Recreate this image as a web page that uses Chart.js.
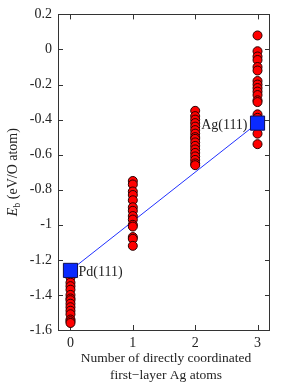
<!DOCTYPE html>
<html><head><meta charset="utf-8">
<script src="https://cdn.jsdelivr.net/npm/chart.js@4"></script>
<style>html,body{margin:0;padding:0;background:#fff}#wrap{width:281px;height:382px}</style>
</head><body><div id="wrap"><canvas id="c" width="281" height="382"></canvas></div>
<script>
const categories = [0, 1, 2, 3];
const col0 = [-1.30, -1.33, -1.35, -1.37, -1.40, -1.42, -1.43, -1.45, -1.47, -1.49, -1.51, -1.54, -1.55, -1.56];
const col1 = [-0.75, -0.77, -0.81, -0.83, -0.86, -0.90, -0.92, -0.95, -0.97, -1.00, -1.01, -1.07, -1.08, -1.12];
const col2 = [-0.35, -0.38, -0.40, -0.42, -0.44, -0.46, -0.48, -0.50, -0.51, -0.53, -0.55, -0.57, -0.59, -0.61, -0.63, -0.65, -0.66];
const col3 = [0.08, -0.01, -0.04, -0.06, -0.10, -0.12, -0.18, -0.20, -0.22, -0.24, -0.26, -0.29, -0.30, -0.37, -0.39, -0.48, -0.54];
const surfaceNames = ['Pd(111)', 'Ag(111)'];
const surfaceX = [0, 3];
const surfaceY = [-1.26, -0.42];
const xTicks = [0, 1, 2, 3];
const yTicks = [0.2, 0, -0.2, -0.4, -0.6, -0.8, -1, -1.2, -1.4, -1.6];

const cols = [col0, col1, col2, col3];
const scatterPts = [];
cols.forEach((arr, i) => arr.forEach(v => scatterPts.push({x: categories[i], y: v})));
const surfPts = surfaceX.map((x, i) => ({x: x, y: surfaceY[i]}));

const SERIF = '"Liberation Serif", "DejaVu Serif", serif';

const framePlugin = {
  id: 'frame',
  beforeDatasetsDraw(chart) {
    const {ctx, chartArea: a, scales} = chart;
    ctx.save();
    ctx.strokeStyle = '#333';
    ctx.lineWidth = 1;
    ctx.strokeRect(Math.round(a.left) + 0.5, Math.round(a.top) + 0.5, Math.round(a.right - a.left) - 1, Math.round(a.bottom - a.top));
    const L = 5;
    ctx.beginPath();
    xTicks.forEach(v => {
      const px = Math.round(scales.x.getPixelForValue(v)) + 0.5;
      ctx.moveTo(px, a.bottom); ctx.lineTo(px, a.bottom - L);
      ctx.moveTo(px, a.top); ctx.lineTo(px, a.top + L);
    });
    yTicks.forEach(v => {
      const py = Math.round(scales.y.getPixelForValue(v)) + 0.5;
      ctx.moveTo(a.left, py); ctx.lineTo(a.left + L, py);
      ctx.moveTo(a.right, py); ctx.lineTo(a.right - L, py);
    });
    ctx.stroke();
    ctx.restore();
  },
  afterDraw(chart) {
    const {ctx, chartArea: a, scales} = chart;
    ctx.save();
    ctx.fillStyle = '#222';
    ctx.font = '14px ' + SERIF;
    ctx.textBaseline = 'middle';
    ctx.textAlign = 'left';
    ctx.fillText(surfaceNames[0], scales.x.getPixelForValue(surfaceX[0]) + 8, scales.y.getPixelForValue(surfaceY[0]) + 2);
    ctx.textAlign = 'right';
    ctx.fillText(surfaceNames[1], scales.x.getPixelForValue(surfaceX[1]) - 10, scales.y.getPixelForValue(surfaceY[1]) + 2);
    ctx.textAlign = 'center';
    ctx.textBaseline = 'middle';
    ctx.font = '13.5px ' + SERIF;
    const cx = (a.left + a.right) / 2 + 2;
    ctx.fillText('Number of directly coordinated', cx, 358);
    ctx.fillText('first\u2212layer Ag atoms', cx, 375);
    ctx.translate(13, (a.top + a.bottom) / 2);
    ctx.rotate(-Math.PI / 2);
    ctx.textAlign = 'left';
    ctx.textBaseline = 'middle';
    const p1 = 'E', p2 = 'b', p3 = ' (eV/O atom)';
    ctx.font = 'italic 14px ' + SERIF;
    const w1 = ctx.measureText(p1).width;
    ctx.font = '10px ' + SERIF;
    const w2 = ctx.measureText(p2).width;
    ctx.font = '14px ' + SERIF;
    const w3 = ctx.measureText(p3).width;
    let x0 = -(w1 + w2 + w3) / 2;
    ctx.font = 'italic 14px ' + SERIF;
    ctx.fillText(p1, x0, 0);
    ctx.font = '10px ' + SERIF;
    ctx.fillText(p2, x0 + w1, 4);
    ctx.font = '14px ' + SERIF;
    ctx.fillText(p3, x0 + w1 + w2, 0);
    ctx.restore();
  }
};

new Chart(document.getElementById('c'), {
  type: 'scatter',
  data: {
    datasets: [
      {
        type: 'scatter', label: 'surfaces', data: surfPts, order: 0,
        pointStyle: 'rect', pointRadius: 10, pointHoverRadius: 10,
        backgroundColor: '#0a2aff', borderColor: '#101050', borderWidth: 1
      },
      {
        type: 'scatter', label: 'sites', data: scatterPts, order: 1,
        pointStyle: 'circle', pointRadius: 4.5, pointHoverRadius: 4.5,
        backgroundColor: '#ff0000', borderColor: '#2a0000', borderWidth: 1
      },
      {
        type: 'line', label: 'fit', data: surfPts, order: 2,
        borderColor: '#2030ff', borderWidth: 1, pointRadius: 0, fill: false, showLine: true
      }
    ]
  },
  options: {
    responsive: false,
    animation: false,
    events: [],
    layout: {padding: {left: 0, right: 10, top: 13, bottom: 0}},
    plugins: {legend: {display: false}, tooltip: {enabled: false}},
    scales: {
      x: {
        type: 'linear', min: -0.2, max: 3.2,
        grid: {display: false, drawTicks: false},
        border: {display: false},
        afterBuildTicks: s => { s.ticks = xTicks.map(v => ({value: v})); },
        afterFit: s => { s.height = 52; },
        ticks: {padding: 5, color: '#222', font: {family: SERIF, size: 14}, callback: v => String(v), maxRotation: 0}
      },
      y: {
        type: 'linear', min: -1.6, max: 0.2,
        grid: {display: false, drawTicks: false},
        border: {display: false},
        afterBuildTicks: s => { s.ticks = yTicks.map(v => ({value: v})); },
        afterFit: s => { s.width = 58; },
        ticks: {padding: 6, color: '#222', font: {family: SERIF, size: 14}, callback: v => String(Math.round(v * 10) / 10)}
      }
    }
  },
  plugins: [framePlugin]
});
</script></body></html>
